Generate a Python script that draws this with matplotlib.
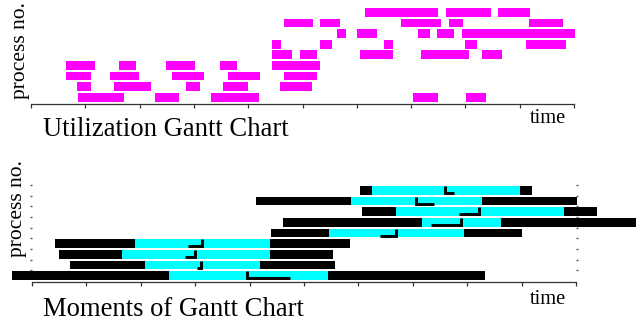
import matplotlib
matplotlib.use("Agg")
import matplotlib.pyplot as plt

# ---------------- data ----------------
# Utilization Gantt chart: busy intervals (start, end) per process, row 1 = bottom
util_row1 = [(8.66, 17.20), (22.84, 27.26), (33.15, 41.99), (70.35, 74.90), (80.11, 83.74)]
util_row2 = [(8.53, 10.99), (15.29, 22.04), (28.55, 31.07), (35.36, 39.91), (45.86, 51.69)]
util_row3 = [(6.45, 10.99), (14.55, 19.83), (25.97, 31.80), (36.28, 42.12), (46.59, 52.61)]
util_row4 = [(6.45, 11.73), (16.21, 19.28), (24.86, 30.15), (34.81, 37.88), (44.38, 53.17)]
util_row5 = [(44.38, 48.07), (49.54, 52.61), (60.59, 66.61), (71.82, 80.61), (83.06, 86.69)]
util_row6 = [(44.38, 45.99), (53.22, 55.38), (65.01, 66.61), (79.93, 82.08), (91.16, 98.47)]
util_row7 = [(56.35, 57.96), (60.04, 63.66), (71.27, 73.43), (74.77, 77.85), (79.37, 100.13)]
util_row8 = [(46.59, 51.88), (53.22, 56.85), (68.14, 75.45), (76.98, 79.50), (91.71, 97.92)]
util_row9 = [(61.51, 74.90), (76.43, 84.66), (86.00, 91.84)]
util_rows = [util_row1, util_row2, util_row3, util_row4, util_row5,
             util_row6, util_row7, util_row8, util_row9]

# Moments chart, per process (row 1 = bottom)
range_lo = [-3.68, 6.99, 4.96, 4.23, 43.93, 46.14, 60.66, 41.18, 60.29]
sd_lo    = [25.18, 20.77, 16.54, 18.93, 54.60, 71.69, 66.91, 58.64, 62.50]
sd_hi    = [54.41, 41.91, 43.75, 43.75, 79.41, 86.21, 97.79, 82.72, 89.71]
range_hi = [83.27, 55.70, 55.33, 58.46, 90.07, 111.03, 103.86, 100.18, 91.91]
mean_t   = [39.60, 31.03, 29.96, 31.16, 67.00, 78.77, 82.08, 70.68, 76.01]
hook_end = [47.40, 30.33, 28.12, 28.68, 63.97, 73.35, 78.49, 73.90, 77.57]

x_ticks = [0, 10, 20, 30, 40, 50, 60, 70, 80, 90, 100]

# ---------------- figure ----------------
W, H = 636, 321
fig = plt.figure(figsize=(W / 100, H / 100), dpi=100)
serif = ["Liberation Serif", "DejaVu Serif"]
MAG = "#ff00ff"
CYAN = "#00ffff"
AXC = "#333333"
BH = 0.82


def px_axes(x0, x1, ytop, ybot):
    return fig.add_axes([x0 / W, 1 - ybot / H, (x1 - x0) / W, (ybot - ytop) / H])


def style_axes(ax):
    ax.set_xlim(0, 100)
    ax.set_ylim(0.42, 9.5)
    for s in ("top", "left", "right"):
        ax.spines[s].set_visible(False)
    ax.spines["bottom"].set_color(AXC)
    ax.spines["bottom"].set_linewidth(0.9)
    ax.set_xticks(x_ticks)
    ax.tick_params(axis="x", direction="out", length=3, width=0.9, color=AXC,
                   labelbottom=False)
    ax.patch.set_alpha(0)


# ---- top: utilization ----
ax1 = px_axes(31, 574, 7.0, 103.5)
style_axes(ax1)
ax1.set_yticks([])
for i, row in enumerate(util_rows):
    y = i + 1
    for s, e in row:
        ax1.barh(y, e - s, left=s, height=BH, color=MAG, edgecolor="none",
                 clip_on=False)

# ---- bottom: moments ----
ax2 = px_axes(32, 576, 185.0, 281.8)
style_axes(ax2)
bounds = [1.5, 2.5, 3.5, 4.5, 5.5, 6.5, 7.5, 8.5, 9.5]
ax2.set_yticks(bounds)
ax2.tick_params(axis="y", direction="out", length=1.2, width=1.0, color="#555555",
                left=True, right=True, labelleft=False)
for i in range(9):
    y = i + 1
    ax2.barh(y, sd_lo[i] - range_lo[i], left=range_lo[i], height=BH, color="black",
             edgecolor="none", clip_on=False)
    ax2.barh(y, sd_hi[i] - sd_lo[i], left=sd_lo[i], height=BH, color=CYAN,
             edgecolor="none", clip_on=False)
    ax2.barh(y, range_hi[i] - sd_hi[i], left=sd_hi[i], height=BH, color="black",
             edgecolor="none", clip_on=False)
    yb = y - BH / 2
    yt = y + BH / 2
    ax2.plot([hook_end[i], mean_t[i], mean_t[i]], [yb + 0.16, yb + 0.16, yt],
             color="black", lw=2.1, solid_joinstyle="miter",
             solid_capstyle="butt", clip_on=False)

# ---- texts ----
fig.text(43 / W, 1 - 136 / H, "Utilization Gantt Chart", family=serif, size=19.2,
         ha="left", va="baseline")
fig.text(43 / W, 1 - 316 / H, "Moments of Gantt Chart", family=serif, size=19.2,
         ha="left", va="baseline")
fig.text(530 / W, 1 - 123 / H, "time", family=serif, size=14.8,
         ha="left", va="baseline")
fig.text(530 / W, 1 - 304 / H, "time", family=serif, size=14.8,
         ha="left", va="baseline")
fig.text(21 / W, 1 - 51 / H, "process no.", family=serif, size=15.5,
         rotation=90, ha="center", va="center")
fig.text(18 / W, 1 - 209 / H, "process no.", family=serif, size=15.5,
         rotation=90, ha="center", va="center")

fig.savefig("out.png", dpi=100)
